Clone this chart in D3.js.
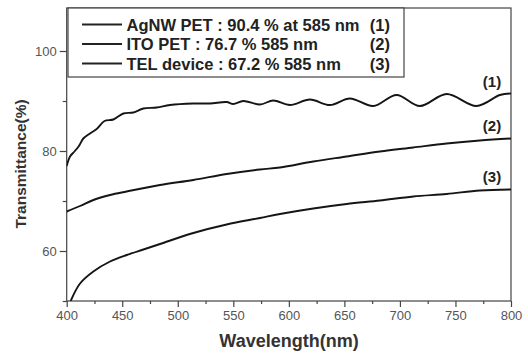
<!DOCTYPE html>
<html><head><meta charset="utf-8">
<script src="https://cdn.jsdelivr.net/npm/d3@7"></script>
<style>html,body{margin:0;padding:0;background:#fff;}svg{display:block;}</style>
</head><body>
<svg id="c" width="528" height="353"></svg>
<script>
const xMajorTicks = [400,450,500,550,600,650,700,750,800];
const xMinorTicks = [425,475,525,575,625,675,725,775];
const yMajorTicks = [60,80,100];
const yMinorTicks = [50,70,90];
const legendLabels = ["AgNW PET : 90.4 % at 585 nm","ITO PET : 76.7 % 585 nm","TEL device : 67.2 % 585 nm"];
const legendNums = ["(1)","(2)","(3)"];

const agnwX = [400,403,407,411,415,421,427,434,442,451,460,469,481,493,514,529,544,550,559,574,586,601,619,637,655,676,697,718,742,769,790,800];
const agnwY = [77.0,78.9,79.9,81.0,82.5,83.5,84.4,86.0,86.3,87.5,87.7,88.5,88.7,89.2,89.5,89.5,89.8,89.4,90.0,89.3,90.1,89.2,90.3,89.2,90.5,89.0,91.2,89.0,91.4,89.0,91.2,91.5];

const itoX = [400,412,424,439,454,484,514,544,574,592,622,652,682,712,742,772,800];
const itoY = [67.9,69.0,70.2,71.2,71.9,73.2,74.2,75.4,76.3,76.7,77.9,78.9,79.9,80.7,81.5,82.1,82.5];

const telX = [403.6,412,424,439,454,469,484,514,544,574,592,622,652,682,712,742,772,800];
const telY = [50.0,53.5,55.9,57.9,59.2,60.3,61.4,63.6,65.3,66.6,67.4,68.5,69.4,70.1,70.9,71.4,72.1,72.3];

const seriesX = [agnwX, itoX, telX];
const seriesY = [agnwY, itoY, telY];
const curveLabelPos = [[800, 93.0],[800, 82.5],[800, 72.3]];

const svg = d3.select("#c");
const L = 66.7, R = 511, T = 8, B = 301;
const x = d3.scaleLinear().domain([400,800]).range([L,R]);
const y = d3.scaleLinear().domain([50,108.6]).range([B,T]);
const axisCol = "#444";
const font = "'Liberation Sans', Arial, sans-serif";

// frame
svg.append("rect").attr("x",L).attr("y",T).attr("width",R-L).attr("height",B-T)
  .attr("fill","none").attr("stroke",axisCol).attr("stroke-width",1.2);

// x axis
const gx = svg.append("g").attr("transform",`translate(0,${B})`);
gx.call(d3.axisBottom(x).tickValues(xMajorTicks).tickSize(6).tickPadding(4).tickFormat(d3.format("d")));
const gxm = svg.append("g").attr("transform",`translate(0,${B})`);
gxm.call(d3.axisBottom(x).tickValues(xMinorTicks).tickSize(3).tickFormat(""));
// y axis
const gy = svg.append("g").attr("transform",`translate(${L},0)`);
gy.call(d3.axisLeft(y).tickValues(yMajorTicks).tickSize(7).tickPadding(3).tickFormat(d3.format("d")));
const gym = svg.append("g").attr("transform",`translate(${L},0)`);
gym.call(d3.axisLeft(y).tickValues(yMinorTicks).tickSize(4).tickFormat(""));
svg.selectAll(".domain").remove();
svg.selectAll(".tick line").attr("stroke",axisCol).attr("stroke-width",1.2);
svg.selectAll(".tick text").attr("fill","#555").style("font-family",font).style("font-size","13px");

// axis titles
svg.append("text").attr("x",289).attr("y",347).attr("text-anchor","middle")
  .style("font-family",font).style("font-weight","bold").style("font-size","18px").attr("fill","#333")
  .text("Wavelength(nm)");
svg.append("text").attr("transform","translate(26,164) rotate(-90)").attr("text-anchor","middle")
  .style("font-family",font).style("font-weight","bold").style("font-size","15.5px").attr("fill","#333")
  .text("Transmittance(%)");

// curves
const line = d3.line().x(d=>x(d[0])).y(d=>y(d[1])).curve(d3.curveCatmullRom.alpha(0.5));
const clip = svg.append("clipPath").attr("id","pc").append("rect").attr("x",L).attr("y",T).attr("width",R-L).attr("height",B-T);
seriesX.forEach((xs,i)=>{
  const pts = xs.map((v,j)=>[v, seriesY[i][j]]);
  svg.append("path").attr("d",line(pts)).attr("fill","none").attr("stroke","#151515")
    .attr("stroke-width",1.9).attr("clip-path","url(#pc)");
});

// curve labels
const curveLabY = [87, 130.5, 181.5];
legendNums.forEach((t,i)=>{
  svg.append("text").attr("x",492).attr("y",curveLabY[i]).attr("text-anchor","middle")
    .style("font-family",font).style("font-weight","bold").style("font-size","15px").attr("fill","#222").text(t);
});

// legend
const lg = svg.append("g");
lg.append("rect").attr("x",68).attr("y",T).attr("width",336).attr("height",69)
  .attr("fill","#fff").attr("stroke",axisCol).attr("stroke-width",1.2);
const rowBase = [30.5, 50, 69.5];
legendLabels.forEach((t,i)=>{
  lg.append("line").attr("x1",82).attr("x2",122).attr("y1",rowBase[i]-6).attr("y2",rowBase[i]-6)
    .attr("stroke","#222").attr("stroke-width",1.8);
  lg.append("text").attr("x",126.5).attr("y",rowBase[i]).style("font-family",font).style("font-weight","bold")
    .style("font-size","16.5px").attr("fill","#222").text(t);
  lg.append("text").attr("x",390).attr("y",rowBase[i]).attr("text-anchor","end").style("font-family",font).style("font-weight","bold")
    .style("font-size","16.5px").attr("fill","#222").text(legendNums[i]);
});
</script>
</body></html>
